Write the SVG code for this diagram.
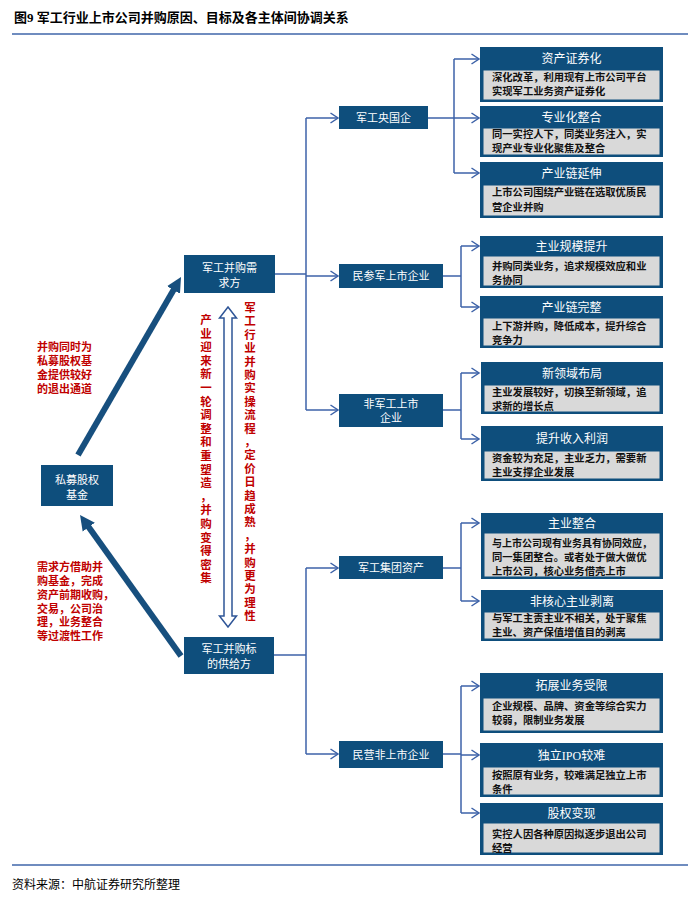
<svg xmlns="http://www.w3.org/2000/svg" width="700" height="904" viewBox="0 0 700 904">
<defs>
<style>
.t{font-family:"Liberation Serif","Noto Sans CJK SC",serif;}
.title{font-size:13px;font-weight:bold;fill:#000;}
.foot{font-size:12px;fill:#000;}
.node{fill:#0e4e7c;}
.nt{font-size:11px;fill:#fff;text-anchor:middle;}
.hd{font-size:12px;fill:#fff;text-anchor:middle;}
.body{fill:#d9d9d9;stroke:#0e4e7c;stroke-width:1;}
.bt{font-size:10.3px;font-weight:bold;fill:#111;}
.red{font-size:11px;font-weight:bold;fill:#c00000;}
.vred{font-size:11.5px;font-weight:bold;fill:#c00000;text-anchor:middle;}
.con{fill:none;stroke:#3d62a8;stroke-width:1.5;}
.arr{marker-end:url(#chev);}
.big{fill:none;stroke:#174f7e;stroke-width:6;marker-end:url(#bighead);}
.rule{stroke:#6f8cbf;stroke-width:2;}
</style>
<marker id="chev" markerUnits="userSpaceOnUse" markerWidth="12" markerHeight="12" refX="9" refY="6" orient="auto">
<path d="M1.5,1 L9,6 L1.5,11" fill="none" stroke="#3d62a8" stroke-width="1.5"/>
</marker>
<marker id="bighead" markerUnits="userSpaceOnUse" markerWidth="18" markerHeight="18" refX="7" refY="9" orient="auto">
<path d="M0,1.5 L15,9 L0,16.5 Z" fill="#174f7e"/>
</marker>
</defs>
<rect width="700" height="904" fill="#fff"/>

<text class="t title" x="14" y="22">图9  军工行业上市公司并购原因、目标及各主体间协调关系</text>
<line class="rule" x1="12" y1="34" x2="688" y2="34"/>
<line class="rule" x1="12" y1="865" x2="688" y2="865"/>
<text class="t foot" x="12" y="889">资料来源：中航证券研究所整理</text>

<g id="connectors">
<line class="big" x1="78" y1="455" x2="177" y2="283.9"/>
<line class="big" x1="181" y1="656" x2="84.7" y2="521.5"/>
<path d="M228,307 L236.5,318 L232,318 L232,616 L236.5,616 L228,627 L219.5,616 L224,616 L224,318 L219.5,318 Z" fill="#fff" stroke="#2e5597" stroke-width="1.5"/>
<!-- demand side tree -->
<path class="con" d="M275,274 H306"/>
<path class="con" d="M306,118 V410"/>
<path class="con arr" d="M306,118 H338"/>
<path class="con arr" d="M306,276 H338"/>
<path class="con arr" d="M306,410 H338"/>
<!-- supply side tree -->
<path class="con" d="M274,655 H306"/>
<path class="con" d="M306,568 V754"/>
<path class="con arr" d="M306,568 H338"/>
<path class="con arr" d="M306,754 H338"/>
<!-- 军工央国企 -->
<path class="con" d="M428,118 H454"/>
<path class="con" d="M454,59 V173"/>
<path class="con arr" d="M454,59 H479"/>
<path class="con arr" d="M454,118 H479"/>
<path class="con arr" d="M454,173 H479"/>
<!-- 民参军 -->
<path class="con" d="M443,276 H461"/>
<path class="con" d="M461,246 V307"/>
<path class="con arr" d="M461,246 H479"/>
<path class="con arr" d="M461,307 H479"/>
<!-- 非军工 -->
<path class="con" d="M443,410 H461"/>
<path class="con" d="M461,373 V439"/>
<path class="con arr" d="M461,373 H479"/>
<path class="con arr" d="M461,439 H479"/>
<!-- 军工集团资产 -->
<path class="con" d="M443,568 H461"/>
<path class="con" d="M461,523 V601"/>
<path class="con arr" d="M461,523 H479"/>
<path class="con arr" d="M461,601 H479"/>
<!-- 民营非上市 -->
<path class="con" d="M443,754 H461"/>
<path class="con" d="M461,686 V813"/>
<path class="con arr" d="M461,686 H479"/>
<path class="con arr" d="M461,755 H479"/>
<path class="con arr" d="M461,813 H479"/>
</g>

<g id="labels-red">
<text class="t red" x="37"><tspan x="37" y="351">并购同时为</tspan><tspan x="37" y="365">私募股权基</tspan><tspan x="37" y="379">金提供较好</tspan><tspan x="37" y="393">的退出通道</tspan></text>
<text class="t red" x="37"><tspan x="37" y="571">需求方借助并</tspan><tspan x="37" y="585">购基金，完成</tspan><tspan x="37" y="599">资产前期收购，</tspan><tspan x="37" y="613">交易，公司治</tspan><tspan x="37" y="626">理，业务整合</tspan><tspan x="37" y="640">等过渡性工作</tspan></text>
<text class="t vred" x="206 206 206 206 206 206 206 206 206 206 206 206 206 206 206 206 206 206 206 206" y="324 337.6 351.2 364.8 378.4 392 405.6 419.2 432.8 446.4 460 473.6 487.2 500.8 514.4 528 541.6 555.2 568.8 582.4">产业迎来新一轮调整和重塑造，并购变得密集</text>
<text class="t vred" x="250 250 250 250 250 250 250 250 250 250 250 250 250 250 250 250 250 250 250 250 250 250 250 250" y="312 325.4 338.8 352.2 365.6 379 392.4 405.8 419.2 432.6 446 459.4 472.8 486.2 499.6 513 526.4 539.8 553.2 566.6 580 593.4 606.8 620.2">军工行业并购实操流程，定价日趋成熟，并购更为理性</text>
</g>

<g id="n-pe"><rect class="node" x="41" y="465" width="72" height="41"/><text class="t nt" x="77" y="484">私募股权</text><text class="t nt" x="77" y="499">基金</text></g>
<g id="n-demand"><rect class="node" x="184" y="255" width="91" height="38"/><text class="t nt" x="229.5" y="272">军工并购需</text><text class="t nt" x="229.5" y="287">求方</text></g>
<g id="n-supply"><rect class="node" x="184" y="637" width="90" height="37"/><text class="t nt" x="229" y="653">军工并购标</text><text class="t nt" x="229" y="668">的供给方</text></g>

<g id="n-soe"><rect class="node" x="339" y="106" width="89" height="23"/><text class="t nt" x="383.5" y="121.5">军工央国企</text></g>
<g id="n-civil"><rect class="node" x="339" y="264" width="104" height="24"/><text class="t nt" x="391" y="280">民参军上市企业</text></g>
<g id="n-nonmil"><rect class="node" x="339" y="394" width="104" height="33"/><text class="t nt" x="391" y="408">非军工上市</text><text class="t nt" x="391" y="422">企业</text></g>
<g id="n-group"><rect class="node" x="339" y="556" width="104" height="23"/><text class="t nt" x="391" y="571.5">军工集团资产</text></g>
<g id="n-private"><rect class="node" x="339" y="741" width="104" height="27"/><text class="t nt" x="391" y="758.5">民营非上市企业</text></g>

<g id="b1"><rect class="node" x="480" y="47" width="183" height="55"/><rect class="body" x="483" y="70" width="177" height="30"/><text class="t hd" x="571.5" y="63">资产证券化</text><text class="t bt" x="492" y="81">深化改革，利用现有上市公司平台</text><text class="t bt" x="492" y="95">实现军工业务资产证券化</text></g>
<g id="b2"><rect class="node" x="480" y="106" width="183" height="51"/><rect class="body" x="483" y="128" width="177" height="27"/><text class="t hd" x="571.5" y="121.5">专业化整合</text><text class="t bt" x="492" y="138">同一实控人下，同类业务注入，实</text><text class="t bt" x="492" y="152">现产业专业化聚焦及整合</text></g>
<g id="b3"><rect class="node" x="480" y="162" width="183" height="56"/><rect class="body" x="483" y="185" width="177" height="31"/><text class="t hd" x="571.5" y="178">产业链延伸</text><text class="t bt" x="492" y="196">上市公司围绕产业链在选取优质民</text><text class="t bt" x="492" y="211">营企业并购</text></g>
<g id="b4"><rect class="node" x="480" y="236" width="183" height="52"/><rect class="body" x="483" y="256" width="177" height="30"/><text class="t hd" x="571.5" y="250.5">主业规模提升</text><text class="t bt" x="492" y="270">并购同类业务，追求规模效应和业</text><text class="t bt" x="492" y="284">务协同</text></g>
<g id="b5"><rect class="node" x="480" y="296" width="183" height="52"/><rect class="body" x="483" y="318" width="177" height="28"/><text class="t hd" x="571.5" y="311.5">产业链完整</text><text class="t bt" x="492" y="330">上下游并购，降低成本，提升综合</text><text class="t bt" x="492" y="344">竞争力</text></g>
<g id="b6"><rect class="node" x="481" y="362" width="182" height="52"/><rect class="body" x="484" y="385" width="176" height="27"/><text class="t hd" x="572" y="378">新领域布局</text><text class="t bt" x="492" y="396">主业发展较好，切换至新领域，追</text><text class="t bt" x="492" y="410">求新的增长点</text></g>
<g id="b7"><rect class="node" x="481" y="426" width="182" height="55"/><rect class="body" x="484" y="451" width="176" height="28"/><text class="t hd" x="572" y="443">提升收入利润</text><text class="t bt" x="492" y="462">资金较为充足，主业乏力，需要新</text><text class="t bt" x="492" y="476">主业支撑企业发展</text></g>
<g id="b8"><rect class="node" x="481" y="513" width="182" height="66"/><rect class="body" x="484" y="533" width="176" height="44"/><text class="t hd" x="572" y="527.5">主业整合</text><text class="t bt" x="492" y="547" textLength="160" lengthAdjust="spacingAndGlyphs">与上市公司现有业务具有协同效应，</text><text class="t bt" x="492" y="561">同一集团整合。或者处于做大做优</text><text class="t bt" x="492" y="575">上市公司，核心业务借壳上市</text></g>
<g id="b9"><rect class="node" x="481" y="590" width="182" height="51"/><rect class="body" x="484" y="612" width="176" height="27"/><text class="t hd" x="572" y="605.5">非核心主业剥离</text><text class="t bt" x="492" y="622">与军工主责主业不相关，处于聚焦</text><text class="t bt" x="492" y="636">主业、资产保值增值目的剥离</text></g>
<g id="b10"><rect class="node" x="480" y="673" width="183" height="60"/><rect class="body" x="483" y="698" width="177" height="33"/><text class="t hd" x="571.5" y="690">拓展业务受限</text><text class="t bt" x="492" y="710">企业规模、品牌、资金等综合实力</text><text class="t bt" x="492" y="724">较弱，限制业务发展</text></g>
<g id="b11"><rect class="node" x="480" y="743" width="183" height="54"/><rect class="body" x="483" y="767" width="177" height="28"/><text class="t hd" x="571.5" y="759.5">独立IPO较难</text><text class="t bt" x="492" y="779">按照原有业务，较难满足独立上市</text><text class="t bt" x="492" y="793">条件</text></g>
<g id="b12"><rect class="node" x="480" y="803" width="183" height="52"/><rect class="body" x="483" y="823" width="177" height="30"/><text class="t hd" x="571.5" y="817.5">股权变现</text><text class="t bt" x="492" y="838">实控人因各种原因拟逐步退出公司</text><text class="t bt" x="492" y="852">经营</text></g>
</svg>
